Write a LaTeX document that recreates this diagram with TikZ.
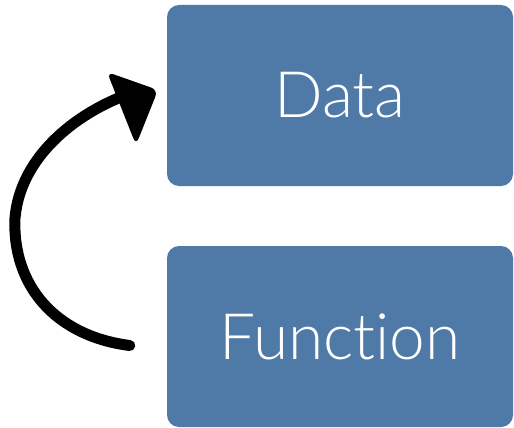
\documentclass[tikz,border=0pt]{standalone}
\usepackage{fontspec}
\IfFontExistsTF{Lato Light}{\newfontfamily\boxfont[Ligatures=NoCommon]{Lato Light}}{\newfontfamily\boxfont[Ligatures=NoCommon]{Lato}}
\usepackage{xcolor}
\usepackage{tikz}
\definecolor{boxblue}{RGB}{79,121,167}

\begin{document}
\begin{tikzpicture}[x=1pt, y=-1pt,
  block/.style={fill=boxblue, rounded corners=12pt, minimum width=346pt, minimum height=181pt,
    text=white, font=\boxfont\fontsize{64}{70}\selectfont, inner sep=0pt},
  scribble/.style={line width=11pt, line cap=round, line join=round}]
\useasboundingbox (0,0) rectangle (514,428);
\node[block] (data) at (340,95.5) {Data};
\node[block] (func) at (340,336.5) {Function};
% hand drawn arrow from function back to data
\coordinate (start) at ([xshift=-37pt,yshift=-9pt]func.west);
\coordinate (end) at ([xshift=-47pt,yshift=-2pt]data.west);
\draw[scribble] (start) .. controls (55,336) and (12,285) .. (15,218)
  .. controls (20,160) and (70,118) .. (end);
\fill[rounded corners=7pt] (107,72) -- (158,90) -- (136,145) -- cycle;
\end{tikzpicture}
\end{document}
